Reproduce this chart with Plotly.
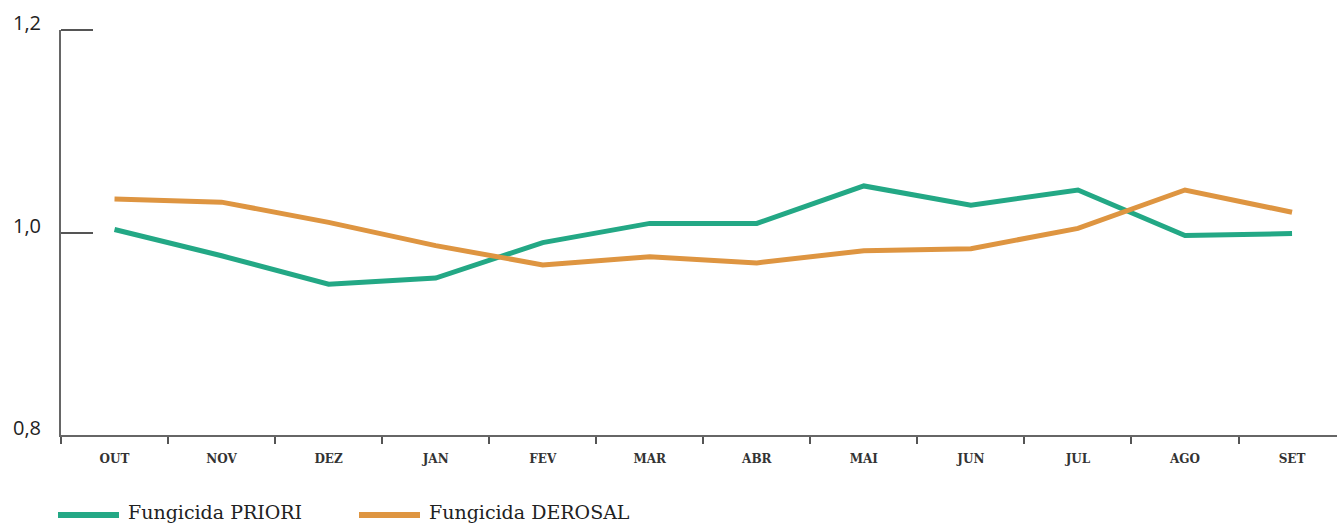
import plotly.graph_objects as go

months = ["OUT", "NOV", "DEZ", "JAN", "FEV", "MAR", "ABR", "MAI", "JUN", "JUL", "AGO", "SET"]
priori = [1.003, 0.977, 0.949, 0.955, 0.990, 1.009, 1.009, 1.046, 1.027, 1.042, 0.997, 0.999]
derosal = [1.033, 1.030, 1.010, 0.987, 0.968, 0.976, 0.970, 0.982, 0.984, 1.004, 1.042, 1.020]
y_ticks = [0.8, 1.0, 1.2]
series_names = ["Fungicida PRIORI", "Fungicida DEROSAL"]

GREEN = "#23a885"
ORANGE = "#de9541"

fig = go.Figure()
fig.add_trace(go.Scatter(x=months, y=priori, mode="lines", name=series_names[0],
                         line=dict(color=GREEN, width=5), showlegend=False))
fig.add_trace(go.Scatter(x=months, y=derosal, mode="lines", name=series_names[1],
                         line=dict(color=ORANGE, width=5), showlegend=False))

fig.update_layout(
    width=1337, height=525,
    margin=dict(l=61, r=0, t=30, b=90, autoexpand=False),
    paper_bgcolor="white", plot_bgcolor="white",
    separators=",.",
    showlegend=False,
)
fig.update_xaxes(
    type="category", categoryorder="array", categoryarray=months,
    range=[-0.5, 11.42], automargin=False,
    showline=True, linecolor="#666666", linewidth=2,
    ticks="outside", tickson="boundaries", ticklen=7, tickwidth=2, tickcolor="#555555",
    showgrid=False, zeroline=False,
    tickfont=dict(family="DejaVu Serif", size=12, color="#333333", weight="bold"),
    ticklabelstandoff=12,
)
fig.update_yaxes(
    range=[0.8, 1.2], tickvals=y_ticks, tickformat=".1f", automargin=False,
    showline=True, linecolor="#666666", linewidth=2,
    ticks="inside", ticklen=32, tickwidth=2, tickcolor="#555555",
    showgrid=False, zeroline=False,
    tickfont=dict(family="Open Sans", size=20, color="#222222"),
    ticklabelstandoff=14, ticklabelshift=-7,
)

plot_w = 1337 - 61
# inside tick at the top end of the y axis (plotly drops ticks on the axis ends)
fig.add_shape(type="line", xref="paper", yref="paper", x0=0, x1=32 / plot_w, y0=1, y1=1,
              line=dict(color="#555555", width=2), layer="above")

# custom legend
legend_items = [
    (series_names[0], GREEN, -3, 58, 65),
    (series_names[1], ORANGE, 298, 359, 366),
]
for name, col, x0, x1, xt in legend_items:
    fig.add_shape(type="line", xref="paper", yref="paper",
                  x0=x0 / plot_w, x1=x1 / plot_w, y0=-80 / 405, y1=-80 / 405,
                  line=dict(color=col, width=6))
    fig.add_annotation(xref="paper", yref="paper", x=xt / plot_w, y=-77 / 405,
                       text=name, showarrow=False, xanchor="left", yanchor="middle",
                       font=dict(family="DejaVu Serif", size=19, color="#222222"))

fig.write_html("out.html", config={"displayModeBar": False},
               post_script="document.body.style.margin='0';")
